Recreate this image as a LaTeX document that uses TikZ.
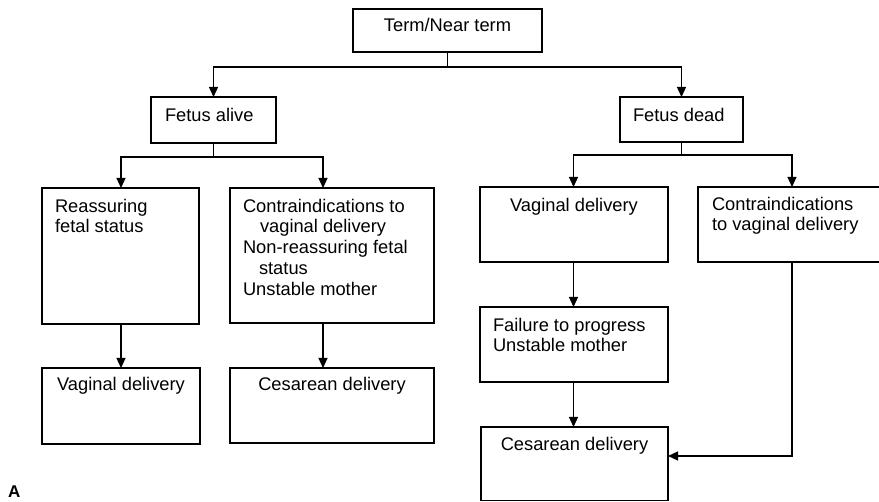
\documentclass[tikz,border=0pt]{standalone}
\usepackage{fontspec}
\setmainfont{Liberation Sans}
\usetikzlibrary{arrows.meta,calc}
\tikzset{
  box/.style={draw=black, line width=1.1pt, rectangle, inner sep=0pt, outer sep=0pt},
  txt/.style={inner sep=0pt, outer sep=0pt, align=left, font=\fontsize{18.3}{20.7}\selectfont},
  ctxt/.style={inner sep=0pt, outer sep=0pt, align=center, font=\fontsize{18.3}{20.7}\selectfont},
  conn/.style={draw=black, line width=1.2pt},
  arr/.style={conn, -{Triangle[width=9pt,length=10pt]}},
}
\begin{document}
\begin{tikzpicture}[x=1pt,y=-1pt]
\useasboundingbox (0,0) rectangle (879,502);
\clip (0,0) rectangle (879,502);
% boxes
\node[box, minimum width=189pt, minimum height=43pt] (top) at (447.5,30.5) {};
\node[box, minimum width=125pt, minimum height=46pt] (alive) at (213.5,120) {};
\node[box, minimum width=123pt, minimum height=45pt] (dead) at (681.5,119.5) {};
\node[box, minimum width=157pt, minimum height=136pt] (reas) at (120.5,256) {};
\node[box, minimum width=204pt, minimum height=135pt] (contraL) at (332,255.5) {};
\node[box, minimum width=158pt, minimum height=76pt] (vagL) at (121,406) {};
\node[box, minimum width=204pt, minimum height=75pt] (cesL) at (332,405.5) {};
\node[box, minimum width=188pt, minimum height=75pt] (vagR) at (574,224.5) {};
\node[box, minimum width=186pt, minimum height=75pt] (contraR) at (791,224.5) {};
\node[box, minimum width=188pt, minimum height=75pt] (fail) at (574,344.5) {};
\node[box, minimum width=187pt, minimum height=73.5pt] (cesR) at (574.5,463.75) {};
% texts
\node[ctxt, anchor=base] (ttop) at ($(top.north)+(0,23)$) {Term/Near term};
\node[txt, anchor=base west] (talive) at ($(alive.north west)+(14,25)$) {Fetus alive};
\node[txt, anchor=base west] (tdead) at ($(dead.north west)+(13,25)$) {Fetus dead};
\node[txt, anchor=north west] (treas) at ($(reas.north west)+(13,11)$) {Reassuring\\fetal status};
\node[txt, anchor=north west] (tcontraL) at ($(contraL.north west)+(13,11)$) {Contraindications to\\\hspace*{17pt}vaginal delivery\\Non-reassuring fetal\\\hspace*{16pt}status\\Unstable mother};
\node[ctxt, anchor=base] (tvagL) at ($(vagL.north)+(0,23)$) {Vaginal delivery};
\node[ctxt, anchor=base] (tcesL) at ($(cesL.north)+(0,23)$) {Cesarean delivery};
\node[ctxt, anchor=base] (tvagR) at ($(vagR.north)+(0,25)$) {Vaginal delivery};
\node[txt, anchor=north west] (tcontraR) at ($(contraR.north west)+(14,10)$) {Contraindications\\to vaginal delivery};
\node[txt, anchor=north west] (tfail) at ($(fail.north west)+(13,11)$) {Failure to progress\\Unstable mother};
\node[ctxt, anchor=base] (tcesR) at ($(cesR.north)+(0,24)$) {Cesarean delivery};
\node[inner sep=0pt, anchor=base west, font=\bfseries\fontsize{17}{18}\selectfont] (lblA) at (8,498) {A};
% helper coordinates
\coordinate (j1) at (447.5,67);
\coordinate (j2) at (213.5,157);
\coordinate (j3) at (681.5,155);
\coordinate (xA) at (121,0);
\coordinate (xL) at (323,0);
\coordinate (xR) at (792,0);
\coordinate (xV) at (573.5,0);
\coordinate (yC) at (0,456);
% connectors
\draw[conn] (top.south) -- (j1);
\draw[arr] (j1) -| (alive.north);
\draw[arr] (j1) -| (dead.north);
\draw[conn] (alive.south) -- (j2);
\draw[arr] (j2) -| (reas.north -| xA);
\draw[arr] (j2) -| (contraL.north -| xL);
\draw[arr] (reas.south -| xA) -- (vagL.north -| xA);
\draw[arr] (contraL.south -| xL) -- (cesL.north -| xL);
\draw[conn] (dead.south) -- (j3);
\draw[arr] (j3) -| (vagR.north -| xV);
\draw[arr] (j3) -| (contraR.north -| xR);
\draw[arr] (vagR.south -| xV) -- (fail.north -| xV);
\draw[arr] (fail.south -| xV) -- (cesR.north -| xV);
\draw[arr] (contraR.south -| xR) |- (cesR.east |- yC);
\end{tikzpicture}
\end{document}
